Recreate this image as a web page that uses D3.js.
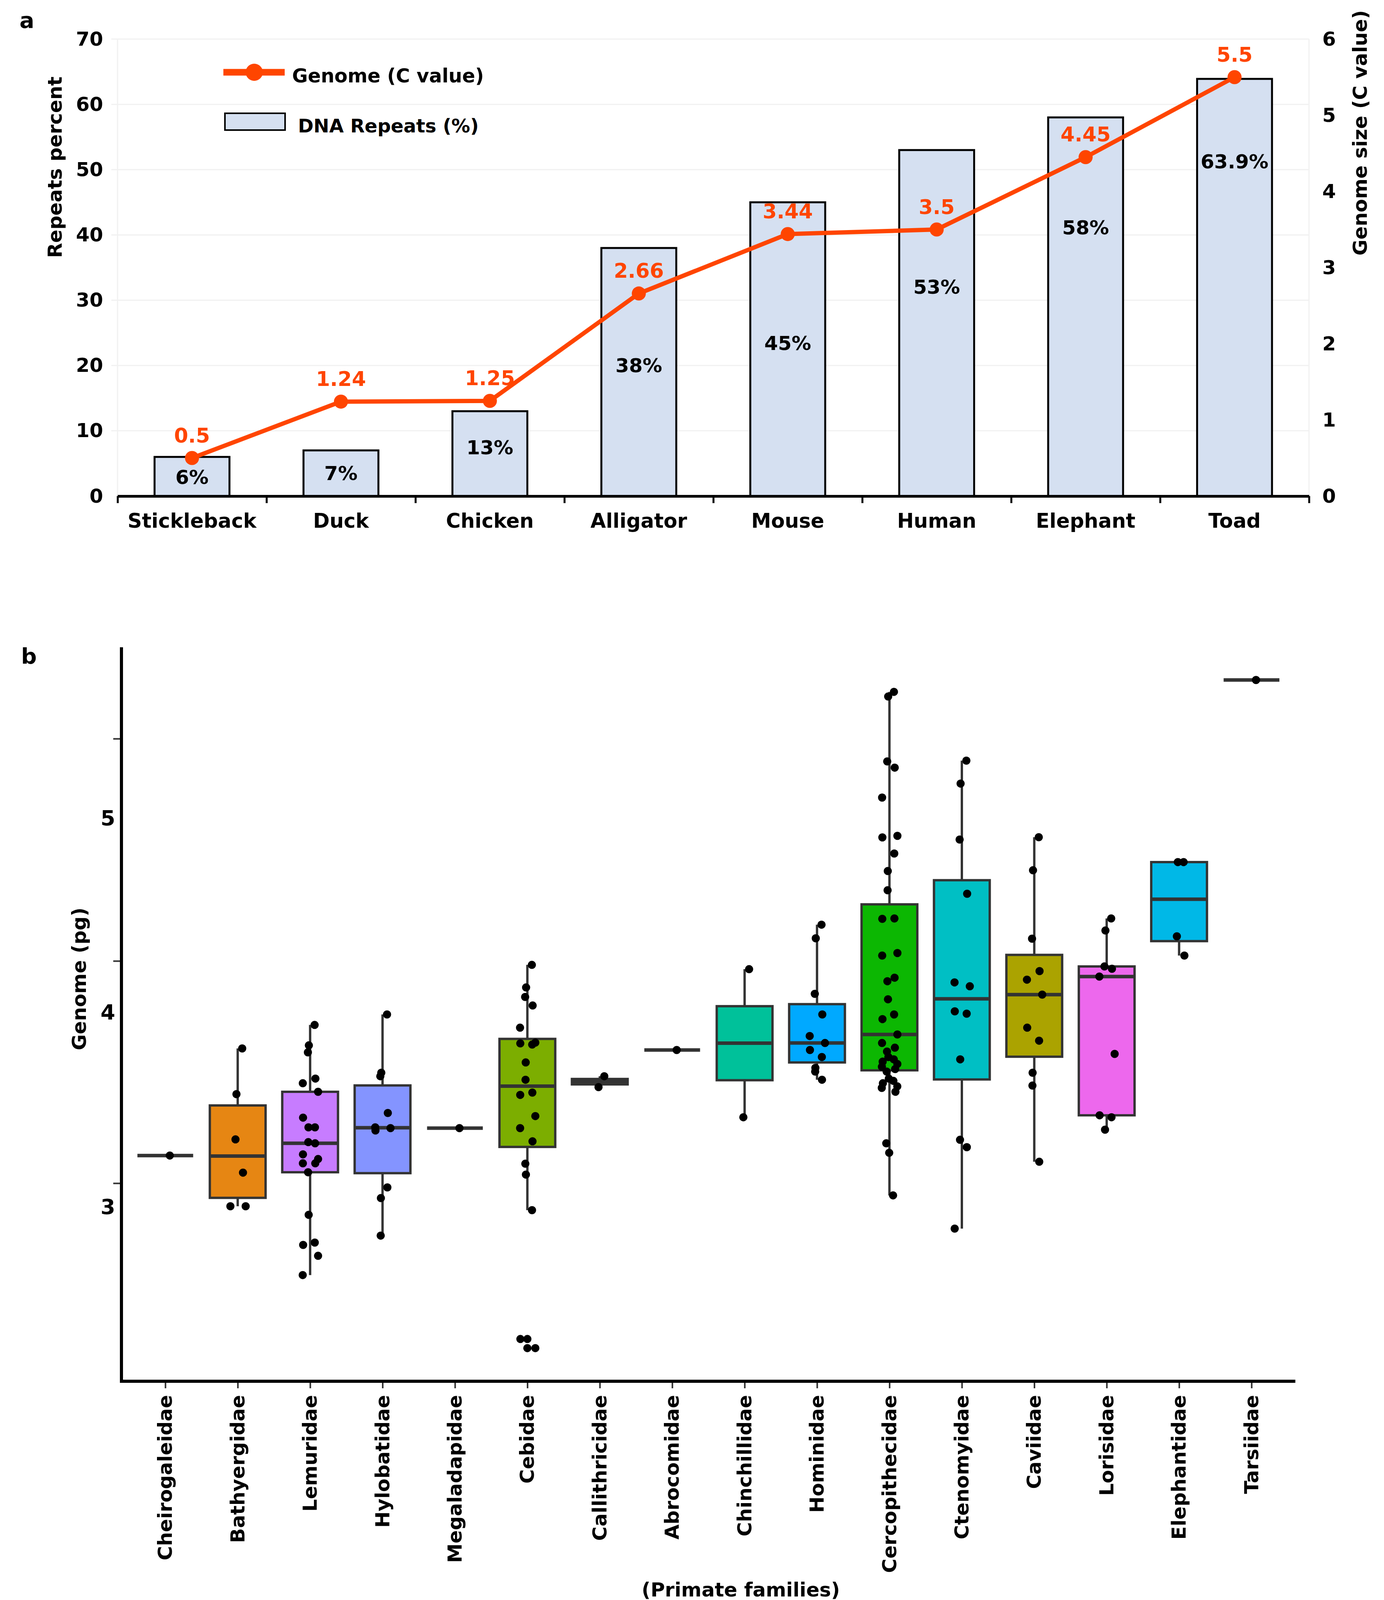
<!DOCTYPE html>
<html>
<head>
<meta charset="utf-8">
<script src="https://cdn.jsdelivr.net/npm/d3@7"></script>
<style>
  body { margin: 0; background: #fff; }
  svg text { font-family: "DejaVu Sans", sans-serif; font-weight: bold; }
</style>
</head>
<body>
<svg id="fig" width="3544" height="4121"></svg>
<script>
// ---------- panel a data ----------
const species = ["Stickleback", "Duck", "Chicken", "Alligator", "Mouse", "Human", "Elephant", "Toad"];
const repeatsPct = [6, 7, 13, 38, 45, 53, 58, 63.9];
const repeatLabels = ["6%", "7%", "13%", "38%", "45%", "53%", "58%", "63.9%"];
// where each % label sits, in "Repeats percent" units
const repeatLabelAt = [2.9, 3.5, 7.4, 20, 23.4, 32, 41.1, 51.2];
const cValue = [0.5, 1.24, 1.25, 2.66, 3.44, 3.5, 4.45, 5.5];
const cValueLabels = ["0.5", "1.24", "1.25", "2.66", "3.44", "3.5", "4.45", "5.5"];
const repeatTicks = [0, 10, 20, 30, 40, 50, 60, 70];
const genomeTicks = [0, 1, 2, 3, 4, 5, 6];

// ---------- panel b data (genome size, pg) ----------
const families = ["Cheirogaleidae", "Bathyergidae", "Lemuridae", "Hylobatidae", "Megaladapidae",
  "Cebidae", "Callithricidae", "Abrocomidae", "Chinchillidae", "Hominidae", "Cercopithecidae",
  "Ctenomyidae", "Caviidae", "Lorisidae", "Elephantidae", "Tarsiidae"];
const cheirogaleidae = [3.265];
const bathyergidae = [3.816, 3.581, 3.348, 3.177, 3.004, 3.004];
const lemuridae = [3.937, 3.832, 3.796, 3.661, 3.637, 3.593, 3.460, 3.410, 3.410, 3.334, 3.328,
  3.271, 3.247, 3.225, 3.225, 3.179, 2.960, 2.817, 2.805, 2.749, 2.650];
const hylobatidae = [3.991, 3.691, 3.673, 3.484, 3.410, 3.406, 3.394, 3.101, 3.046, 2.853];
const megaladapidae = [3.406];
const cebidae = [4.246, 4.130, 4.081, 4.037, 3.923, 3.846, 3.842, 3.836, 3.744, 3.655, 3.589,
  3.577, 3.468, 3.406, 3.338, 3.223, 3.167, 2.984, 2.321, 2.274];
const callithricidae = [3.673, 3.617];
const abrocomidae = [3.808];
const chinchillidae = [4.224, 3.462];
const hominidae = [4.453, 4.383, 4.097, 3.991, 3.880, 3.844, 3.808, 3.772, 3.716, 3.697, 3.655];
const cercopithecidae = [5.651, 5.627, 5.293, 5.261, 5.107, 4.910, 4.902, 4.819, 4.729, 4.630,
  4.485, 4.483, 4.307, 4.294, 4.180, 4.162, 4.069, 3.991, 3.967, 3.888, 3.844, 3.820, 3.800,
  3.772, 3.760, 3.748, 3.736, 3.722, 3.710, 3.697, 3.661, 3.649, 3.637, 3.621, 3.613, 3.593,
  3.328, 3.279, 3.060];
const ctenomyidae = [5.297, 5.179, 4.891, 4.612, 4.156, 4.136, 4.007, 3.995, 3.760, 3.346, 3.308, 2.889];
const caviidae = [4.903, 4.733, 4.381, 4.214, 4.170, 4.093, 3.923, 3.856, 3.691, 3.625, 3.233];
const lorisidae = [4.485, 4.423, 4.238, 4.226, 4.186, 3.788, 3.472, 3.462, 3.398];
const elephantidae = [4.775, 4.775, 4.393, 4.294];
const tarsiidae = [5.712];
const genomeTicksB = [3, 4, 5];

const familyValues = [cheirogaleidae, bathyergidae, lemuridae, hylobatidae, megaladapidae,
  cebidae, callithricidae, abrocomidae, chinchillidae, hominidae, cercopithecidae,
  ctenomyidae, caviidae, lorisidae, elephantidae, tarsiidae];

// ggplot default hue palette for 16 levels (levels are alphabetical)
const huePalette = ["#F8766D", "#E68613", "#CD9600", "#ABA300", "#7CAE00", "#0CB702", "#00BE67",
  "#00C19A", "#00BFC4", "#00B8E7", "#00A9FF", "#8494FF", "#C77CFF", "#ED68ED", "#FF61CC", "#FF68A1"];

const orange = "#ff4500";
const barFill = "#d5e0f1";
const intFmt = d3.format("d");

const svg = d3.select("#fig");
svg.append("rect").attr("width", 3544).attr("height", 4121).attr("fill", "#fff");

// =================== panel a ===================
const aLeft = 301, aRight = 3352, aTop = 100, aBottom = 1270;
const xA = d3.scaleBand().domain(species).range([aLeft, aRight]);
const yRep = d3.scaleLinear().domain([0, 70]).range([aBottom, aTop]);
const yGen = d3.scaleLinear().domain([0, 6]).range([aBottom, aTop]);
const cx = d => xA(d) + xA.bandwidth() / 2;

const pa = svg.append("g");

// faint grid
pa.append("g").selectAll("line")
  .data(repeatTicks.filter(t => t > 0))
  .join("line")
  .attr("x1", aLeft - 16).attr("x2", aRight)
  .attr("y1", d => yRep(d)).attr("y2", d => yRep(d))
  .attr("stroke", "#f1f1f1").attr("stroke-width", 3);
pa.append("g").selectAll("line")
  .data([aLeft, aRight])
  .join("line")
  .attr("x1", d => d).attr("x2", d => d)
  .attr("y1", aTop).attr("y2", aBottom)
  .attr("stroke", "#f1f1f1").attr("stroke-width", 3);

// bars
const bw = xA.bandwidth() * 0.503;
pa.append("g").selectAll("rect")
  .data(species)
  .join("rect")
  .attr("x", d => cx(d) - bw / 2)
  .attr("y", (d, i) => yRep(repeatsPct[i]))
  .attr("width", bw)
  .attr("height", (d, i) => aBottom - yRep(repeatsPct[i]))
  .attr("fill", barFill)
  .attr("stroke", "#000")
  .attr("stroke-width", 5);

pa.append("g").selectAll("text")
  .data(species)
  .join("text")
  .attr("x", d => cx(d))
  .attr("y", (d, i) => yRep(repeatLabelAt[i]))
  .attr("text-anchor", "middle")
  .attr("dominant-baseline", "central")
  .attr("font-size", 50)
  .attr("fill", "#000")
  .text((d, i) => repeatLabels[i]);

// x axis with ticks on the band edges
const xEdge = d3.scaleLinear().domain([0, species.length]).range([aLeft, aRight]);
pa.append("g")
  .attr("transform", `translate(0,${aBottom})`)
  .call(d3.axisBottom(xEdge).tickValues(d3.range(species.length + 1)).tickFormat("")
    .tickSizeInner(18).tickSizeOuter(0))
  .call(g => g.select(".domain").attr("stroke", "#000").attr("stroke-width", 7))
  .call(g => g.selectAll(".tick line").attr("stroke", "#000").attr("stroke-width", 5));

pa.append("g")
  .attr("transform", `translate(0,${aBottom})`)
  .call(d3.axisBottom(xA).tickSize(0).tickPadding(45))
  .call(g => g.select(".domain").remove())
  .call(g => g.selectAll("text").attr("font-size", 51).attr("fill", "#000")
    .attr("font-family", "DejaVu Sans").attr("font-weight", "bold"));

// left & right value axes
pa.append("g")
  .attr("transform", `translate(${aLeft},0)`)
  .call(d3.axisLeft(yRep).tickValues(repeatTicks).tickFormat(intFmt).tickSize(0).tickPadding(37))
  .call(g => g.select(".domain").remove())
  .call(g => g.selectAll("text").attr("font-size", 50).attr("fill", "#000")
    .attr("font-family", "DejaVu Sans").attr("font-weight", "bold"));

pa.append("g")
  .attr("transform", `translate(${aRight},0)`)
  .call(d3.axisRight(yGen).tickValues(genomeTicks).tickFormat(intFmt).tickSize(0).tickPadding(34))
  .call(g => g.select(".domain").remove())
  .call(g => g.selectAll("text").attr("font-size", 50).attr("fill", "#000")
    .attr("font-family", "DejaVu Sans").attr("font-weight", "bold"));

// genome line
const genLine = d3.line()
  .x((d, i) => cx(species[i]))
  .y(d => yGen(d));
pa.append("path")
  .datum(cValue)
  .attr("d", genLine)
  .attr("fill", "none")
  .attr("stroke", orange)
  .attr("stroke-width", 11)
  .attr("stroke-linejoin", "round");
pa.append("g").selectAll("circle")
  .data(cValue)
  .join("circle")
  .attr("cx", (d, i) => cx(species[i]))
  .attr("cy", d => yGen(d))
  .attr("r", 18)
  .attr("fill", orange);
pa.append("g").selectAll("text")
  .data(cValue)
  .join("text")
  .attr("x", (d, i) => cx(species[i]))
  .attr("y", d => yGen(d) - 58)
  .attr("text-anchor", "middle")
  .attr("dominant-baseline", "central")
  .attr("font-size", 52)
  .attr("fill", orange)
  .text((d, i) => cValueLabels[i]);

// legend
const leg = pa.append("g");
leg.append("line").attr("x1", 572).attr("x2", 729).attr("y1", 185).attr("y2", 185)
  .attr("stroke", orange).attr("stroke-width", 17);
leg.append("circle").attr("cx", 651).attr("cy", 185).attr("r", 22).attr("fill", orange);
leg.append("text").attr("x", 748).attr("y", 194).attr("dominant-baseline", "central")
  .attr("font-size", 49).text("Genome (C value)");
leg.append("rect").attr("x", 576).attr("y", 290).attr("width", 154).attr("height", 43)
  .attr("fill", barFill).attr("stroke", "#000").attr("stroke-width", 4);
leg.append("text").attr("x", 763).attr("y", 322).attr("dominant-baseline", "central")
  .attr("font-size", 48).text("DNA Repeats (%)");

// titles
pa.append("text").attr("transform", "translate(141,428) rotate(-90)")
  .attr("text-anchor", "middle").attr("dominant-baseline", "central")
  .attr("font-size", 50).text("Repeats percent");
pa.append("text").attr("transform", "translate(3483,340) rotate(-90)")
  .attr("text-anchor", "middle").attr("dominant-baseline", "central")
  .attr("font-size", 50).text("Genome size (C value)");
svg.append("text").attr("x", 69).attr("y", 51).attr("text-anchor", "middle")
  .attr("dominant-baseline", "central").attr("font-size", 56).text("a");

// =================== panel b ===================
const bLeft = 311, bRight = 3317, bTop = 1657, bBottom = 3536;
const xB = d3.scalePoint().domain(families).range([312, 3316]).padding(0.6);
const yB = d3.scaleLinear().domain([3, 5]).range([3090, 2095]);
// the tick marks on this panel do not line up with their labels
const yTickMark = d3.scaleLinear().domain([3, 5]).range([3029, 1891]);
const fillB = d3.scaleOrdinal().domain(d3.sort(families)).range(huePalette);

const pb = svg.append("g");
const boxW = xB.step() * 0.77;
const dark = "#333333";

const stats = families.map((f, i) => {
  const v = d3.sort(familyValues[i]);
  const q1 = d3.quantileSorted(v, 0.25);
  const med = d3.quantileSorted(v, 0.5);
  const q3 = d3.quantileSorted(v, 0.75);
  const iqr = q3 - q1;
  const inside = v.filter(x => x >= q1 - 1.5 * iqr && x <= q3 + 1.5 * iqr);
  return {
    family: f, values: familyValues[i], q1, med, q3,
    lo: d3.min(inside), hi: d3.max(inside),
    out: v.filter(x => x < q1 - 1.5 * iqr || x > q3 + 1.5 * iqr)
  };
});

const boxes = pb.append("g").selectAll("g")
  .data(stats)
  .join("g")
  .attr("transform", d => `translate(${xB(d.family)},0)`);

boxes.append("line")
  .attr("x1", 0).attr("x2", 0)
  .attr("y1", d => yB(d.hi)).attr("y2", d => yB(d.q3))
  .attr("stroke", dark).attr("stroke-width", 6);
boxes.append("line")
  .attr("x1", 0).attr("x2", 0)
  .attr("y1", d => yB(d.q1)).attr("y2", d => yB(d.lo))
  .attr("stroke", dark).attr("stroke-width", 6);
boxes.append("rect")
  .attr("x", -boxW / 2)
  .attr("y", d => yB(d.q3))
  .attr("width", boxW)
  .attr("height", d => yB(d.q1) - yB(d.q3))
  .attr("fill", d => fillB(d.family))
  .attr("stroke", dark)
  .attr("stroke-width", 6);
boxes.append("line")
  .attr("x1", -boxW / 2).attr("x2", boxW / 2)
  .attr("y1", d => yB(d.med)).attr("y2", d => yB(d.med))
  .attr("stroke", dark).attr("stroke-width", 9);
boxes.selectAll("circle.out")
  .data(d => d.out)
  .join("circle")
  .attr("class", "out")
  .attr("cx", 0).attr("cy", d => yB(d)).attr("r", 10.5)
  .attr("fill", "#000");
boxes.selectAll("circle.pt")
  .data(d => d.values)
  .join("circle")
  .attr("class", "pt")
  .attr("cx", (d, i) => xB.step() * 0.11 * Math.sin(i * 2.7 + 0.6))
  .attr("cy", d => yB(d))
  .attr("r", 10.5)
  .attr("fill", "#000");

// spines
pb.append("line").attr("x1", bLeft).attr("x2", bLeft).attr("y1", bTop).attr("y2", bBottom + 4)
  .attr("stroke", "#000").attr("stroke-width", 8);
pb.append("line").attr("x1", bLeft - 4).attr("x2", bRight).attr("y1", bBottom).attr("y2", bBottom)
  .attr("stroke", "#000").attr("stroke-width", 8);

// y ticks + labels
pb.append("g")
  .attr("transform", `translate(${bLeft - 4},0)`)
  .call(d3.axisLeft(yTickMark).tickValues(genomeTicksB).tickFormat("").tickSize(17))
  .call(g => g.select(".domain").remove())
  .call(g => g.selectAll(".tick line").attr("stroke", dark).attr("stroke-width", 4));
pb.append("g")
  .attr("transform", `translate(${bLeft},0)`)
  .call(d3.axisLeft(yB).tickValues(genomeTicksB).tickFormat(intFmt).tickSize(0).tickPadding(16))
  .call(g => g.select(".domain").remove())
  .call(g => g.selectAll("text").attr("font-size", 54).attr("fill", "#000")
    .attr("font-family", "DejaVu Sans").attr("font-weight", "bold"));

// x ticks + rotated labels
pb.append("g")
  .attr("transform", `translate(0,${bBottom + 4})`)
  .call(d3.axisBottom(xB).tickFormat("").tickSizeInner(14).tickSizeOuter(0))
  .call(g => g.select(".domain").remove())
  .call(g => g.selectAll(".tick line").attr("stroke", dark).attr("stroke-width", 4));
pb.append("g").selectAll("text")
  .data(families)
  .join("text")
  .attr("transform", d => `translate(${xB(d)},${bBottom + 35}) rotate(-90)`)
  .attr("text-anchor", "end")
  .attr("dominant-baseline", "central")
  .attr("font-size", 50)
  .text(d => d);

pb.append("text").attr("transform", "translate(203,2506) rotate(-90)")
  .attr("text-anchor", "middle").attr("dominant-baseline", "central")
  .attr("font-size", 50).text("Genome (pg)");
pb.append("text").attr("x", 1897).attr("y", 4070)
  .attr("text-anchor", "middle").attr("dominant-baseline", "central")
  .attr("font-size", 50).text("(Primate families)");
svg.append("text").attr("x", 74).attr("y", 1679).attr("text-anchor", "middle")
  .attr("dominant-baseline", "central").attr("font-size", 56).text("b");
</script>
</body>
</html>
